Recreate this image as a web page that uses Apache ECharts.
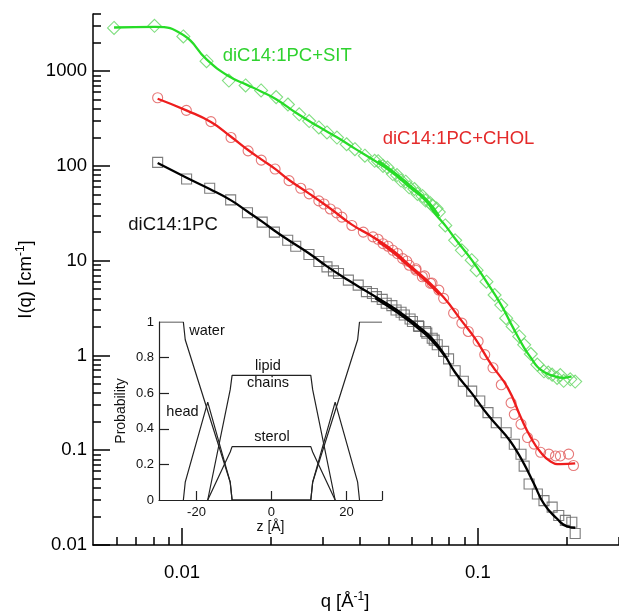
<!DOCTYPE html>
<html><head><meta charset="utf-8">
<script src="https://cdn.jsdelivr.net/npm/echarts@6/dist/echarts.min.js"></script>
<style>html,body{margin:0;padding:0;background:#fff}#c{width:619px;height:616px}</style>
</head><body><div id="c"></div>
<script>
const FONT = '"Liberation Sans", Arial, Helvetica, sans-serif';

// ---- diC14:1PC+SIT (green diamonds) ----
const sitQ = [0.00589,0.00807,0.0101,0.0121,0.0144,0.0164,0.0185,0.0208,0.0228,0.0249,0.0269,0.0290,0.0309,0.0334,0.0360,0.0384,0.0415,0.0448,0.0478,0.0516,0.0550,0.0586,0.0625,0.0666,0.0701,0.0738];
const sitI = [2850,3000,2320,1270,794,705,624,531,444,350,297,254,225,199,169,150,128,113,100,82,70,59.4,50.6,43,38.1,32.5];
const sitQ2 = [0.0460,0.0495,0.0533,0.0570,0.0610,0.0650,0.0690,0.0725,0.0776,0.0838,0.0883,0.0953,0.0990,0.1069,0.1139,0.1200,0.1246,0.1311,0.1380,0.1434,0.1510,0.1589,0.1673,0.1730,0.1783,0.1853,0.1900,0.1950,0.2053,0.2133];
const sitI2 = [112,96,80,68,57,48,40.5,35.5,23.5,16.4,12.85,10.1,7.93,6.0,4.34,3.40,2.47,2.02,1.585,1.295,1.035,0.80,0.68,0.66,0.627,0.58,0.62,0.54,0.56,0.53];
const sitFitQ = [0.00589,0.0081,0.0101,0.0121,0.0144,0.0165,0.0185,0.0208,0.0242,0.0290,0.0334,0.0384,0.0448,0.0516,0.0586,0.0666,0.0719,0.0780,0.0838,0.0953,0.1069,0.1200,0.1311,0.1434,0.1510,0.1589,0.1673,0.1765,0.1950,0.2074];
const sitFitI = [2880,2930,2400,1330,880,720,610,505,365,258,200,152,113,84,60,43,31,23,17,10.2,6.0,3.4,2.0,1.2,0.95,0.76,0.67,0.62,0.58,0.6];
const sitFit2Q = [0.046,0.052,0.059,0.067,0.074];
const sitFit2I = [113,86,62,44,29.5];

// ---- diC14:1PC+CHOL (red circles) ----
const cholQ = [0.00827,0.01034,0.01252,0.01464,0.01672,0.01853,0.02063,0.0230,0.0252,0.0269,0.0290,0.0302,0.0317,0.0333,0.0347,0.0375,0.0410,0.0442,0.0478,0.0516,0.0557,0.0586,0.0617,0.0649,0.0692,0.0738];
const cholI = [523,385,293,199,144,115,92.5,69.8,58.0,50.6,42.7,39.6,35.1,31.9,28.8,23.5,20.0,17.8,15.1,12.85,10.5,8.95,7.93,6.76,5.75,4.89];
const cholQ2 = [0.0460,0.0497,0.0535,0.0575,0.0618,0.0660,0.0700,0.0766,0.0828,0.0883,0.0928,0.1002,0.1055,0.1125,0.1200,0.1295,0.1328,0.1399,0.1472,0.1549,0.1630,0.1738,0.1830,0.1901,0.2027,0.2105];
const cholI2 = [16.8,14.2,11.9,9.9,8.2,6.9,5.8,4.0,2.79,2.19,1.79,1.41,1.02,0.74,0.49,0.316,0.239,0.188,0.136,0.116,0.095,0.091,0.087,0.087,0.091,0.069];
const cholFitQ = [0.00827,0.01034,0.01252,0.01464,0.01672,0.01853,0.02063,0.0230,0.0269,0.0317,0.0375,0.0442,0.0516,0.0586,0.0666,0.0766,0.0883,0.0977,0.1111,0.1262,0.1399,0.151,0.163,0.1761,0.1901,0.2133];
const cholFitI = [511,385,290,203,147,117,93,71,51,35.5,24,17.8,12.8,9.0,6.4,4.1,2.3,1.52,0.80,0.455,0.22,0.136,0.095,0.076,0.0713,0.0725];
const cholFit2Q = [0.046,0.052,0.058,0.066,0.074];
const cholFit2I = [15.8,12.0,8.9,6.3,4.4];

// ---- diC14:1PC (black squares) ----
const pcQ = [0.00827,0.01036,0.0124,0.0146,0.01664,0.01866,0.02052,0.02276,0.02423,0.02685,0.0290,0.0309,0.0325,0.0338,0.0365,0.0394,0.0420,0.0454,0.0490,0.0529,0.0564,0.0601,0.0632,0.0666,0.0701,0.0729,0.0766];
const pcI = [108.9,72.6,58.0,43.8,32.0,25.5,20.0,16.4,14.2,11.6,9.8,8.6,7.8,7.33,6.23,5.52,4.71,4.17,3.55,3.02,2.67,2.28,2.02,1.79,1.52,1.295,1.104];
const pcQ2 = [0.0440,0.0475,0.0512,0.0550,0.0590,0.0630,0.0672,0.0712,0.0796,0.0838,0.0893,0.0953,0.1015,0.1082,0.1154,0.1246,0.1328,0.1399,0.1434,0.1490,0.1589,0.1673,0.1783,0.1877,0.1976,0.2078,0.2133];
const pcI2 = [4.5,3.9,3.35,2.85,2.42,2.05,1.72,1.45,0.92,0.69,0.535,0.42,0.33,0.249,0.195,0.153,0.1156,0.0908,0.068,0.044,0.0345,0.0294,0.0251,0.0205,0.0182,0.0174,0.0132];
const pcFitQ = [0.00827,0.01036,0.0124,0.0146,0.01664,0.01866,0.0205,0.0228,0.0269,0.0309,0.0365,0.042,0.049,0.0564,0.0632,0.0701,0.0766,0.0838,0.0953,0.1082,0.1246,0.1328,0.1434,0.1549,0.1673,0.1853,0.2,0.2133];
const pcFitI = [107,75,57,43.5,33,25.8,20.8,16.6,11.9,8.7,6.2,4.75,3.55,2.65,2.0,1.5,1.05,0.66,0.40,0.235,0.142,0.108,0.0713,0.044,0.0271,0.0189,0.0157,0.0152];
const pcFit2Q = [0.045,0.050,0.056,0.063,0.070,0.078];
const pcFit2I = [4.0,3.25,2.55,1.92,1.43,0.95];

// ---- inset: probability profiles ----
const zWater = [-30,-23.5,-23,-11,-10.5,10.5,11,23,23.5,29.5];
const pWater = [1,1,0.9,0.1,0,0,0.1,0.9,1,1];
const zHead = [-23.5,-23,-17,-11,-10.5,10.5,11,17,23,23.5];
const pHead = [0,0.1,0.55,0.1,0,0,0.1,0.55,0.1,0];
const zChain = [-17,-11,-10.5,10.5,11,17];
const pChain = [0,0.62,0.7,0.7,0.62,0];
const zSterol = [-17,-11,-10.5,10.5,11,17];
const pSterol = [0,0.27,0.3,0.3,0.27,0];

// ---- ticks ----
const xMajorTicks = [0.01, 0.1];
const xTickLabels = ['0.01', '0.1'];
const xMinorTicks = [0.006,0.007,0.008,0.009,0.02,0.03,0.04,0.05,0.06,0.07,0.08,0.09,0.2,0.3];
const yMajorTicks = [0.01,0.1,1,10,100,1000];
const yTickLabels = ['0.01','0.1','1','10','100','1000'];
const minorMantissas = [2,3,4,5,6,7,8,9];
const yMinorTicks = yMajorTicks.flatMap(d => minorMantissas.map(m => +(m*d).toPrecision(3))).filter(v => v <= 4000);
const zTicks = [-20, 0, 20, 29.5];
const zTickLabels = [-20, 0, 20];
const pTicks = [0.2, 0.4, 0.6, 0.8];
const pTickLabels = [0, 0.2, 0.4, 0.6, 0.8, 1];

const zip = (a, b) => a.map((v, i) => [v, b[i]]);
const labelFor = (ticks, labels) => v => {
  const i = ticks.findIndex(t => Math.abs(Math.log10(t / v)) < 1e-4);
  return i >= 0 ? labels[i] : '';
};

const GREEN = '#27dc27', GREEN_M = '#6ad86a';
const RED = '#ee1d1d', RED_M = '#e26060';
const BLACK = '#000', BLACK_M = '#666';

function marker(name, q, I, symbol, size, col) {
  return { type: 'scatter', name, xAxisIndex: 0, yAxisIndex: 0, data: zip(q, I), symbol, symbolSize: size,
    itemStyle: { color: 'rgba(255,255,255,0)', borderColor: col, borderWidth: 1.1, opacity: 0.85 }, z: 2, silent: true };
}
function fit(q, I, col) {
  return { type: 'line', xAxisIndex: 0, yAxisIndex: 0, data: zip(q, I), symbol: 'none', showSymbol: false,
    smooth: 0.5, lineStyle: { color: col, width: 2.3 }, z: 3, silent: true };
}
function prof(z, p) {
  return { type: 'line', xAxisIndex: 2, yAxisIndex: 2, data: zip(z, p), symbol: 'none', showSymbol: false,
    lineStyle: { color: '#222', width: 1.2 }, z: 3, silent: true };
}

const tickStyle = { color: '#000', width: 1.5 };
const insetTick = { color: '#222', width: 1.2 };

const option = {
  animation: false,
  backgroundColor: '#fff',
  grid: [
    { left: 93, top: 14, width: 533, height: 534 },
    { left: 159, top: 322, width: 223, height: 178 }
  ],
  xAxis: [
    { type: 'log', gridIndex: 0, min: 0.005, max: 0.3, position: 'bottom',
      axisLine: { onZero: false, lineStyle: tickStyle },
      axisTick: { inside: true, length: 17, lineStyle: tickStyle, customValues: xMajorTicks },
      axisLabel: { customValues: xMajorTicks, formatter: labelFor(xMajorTicks, xTickLabels), margin: 18,
        color: '#000', fontSize: 18.5, fontFamily: FONT },
      splitLine: { show: false }, minorTick: { show: false },
      name: '{a|q [Å}{b|-1}{a|]}', nameLocation: 'middle', nameGap: 46,
      nameTextStyle: { padding: [0, 22, 0, 0], rich: {
        a: { fontSize: 18.5, fontFamily: FONT, color: '#000' },
        b: { fontSize: 12, fontFamily: FONT, color: '#000', padding: [0, 0, 9, 0] } } } },
    { type: 'log', gridIndex: 0, min: 0.005, max: 0.3, position: 'bottom',
      axisLine: { show: false, onZero: false },
      axisTick: { inside: true, length: 8, lineStyle: tickStyle, customValues: xMinorTicks },
      axisLabel: { show: false }, splitLine: { show: false } },
    { type: 'value', gridIndex: 1, min: -30, max: 29.5, position: 'bottom',
      axisLine: { onZero: false, lineStyle: insetTick },
      axisTick: { inside: true, length: 9, lineStyle: insetTick, customValues: zTicks },
      axisLabel: { customValues: zTickLabels, formatter: v => String(v), margin: 6, color: '#111', fontSize: 13, fontFamily: FONT },
      splitLine: { show: false },
      name: 'z [Å]', nameLocation: 'middle', nameGap: 20,
      nameTextStyle: { fontSize: 14, fontFamily: FONT, color: '#111' } }
  ],
  yAxis: [
    { type: 'log', gridIndex: 0, min: 0.01, max: 4000, position: 'left',
      axisLine: { onZero: false, lineStyle: tickStyle },
      axisTick: { inside: true, length: 17, lineStyle: tickStyle, customValues: yMajorTicks },
      axisLabel: { customValues: yMajorTicks, formatter: labelFor(yMajorTicks, yTickLabels), margin: 6,
        color: '#000', fontSize: 18.5, fontFamily: FONT },
      splitLine: { show: false }, minorTick: { show: false },
      name: '{a|I(q) [cm}{b|-1}{a|]}', nameLocation: 'middle', nameGap: 57,
      nameTextStyle: { rich: {
        a: { fontSize: 18.5, fontFamily: FONT, color: '#000' },
        b: { fontSize: 12, fontFamily: FONT, color: '#000', padding: [0, 0, 9, 0] } } } },
    { type: 'log', gridIndex: 0, min: 0.01, max: 4000, position: 'left',
      axisLine: { show: false, onZero: false },
      axisTick: { inside: true, length: 8, lineStyle: tickStyle, customValues: yMinorTicks },
      axisLabel: { show: false }, splitLine: { show: false } },
    { type: 'value', gridIndex: 1, min: 0, max: 1, position: 'left',
      axisLine: { onZero: false, lineStyle: insetTick },
      axisTick: { inside: true, length: 10, lineStyle: insetTick, customValues: pTicks },
      axisLabel: { customValues: pTickLabels, formatter: v => String(v), margin: 5, color: '#111', fontSize: 13, fontFamily: FONT },
      splitLine: { show: false },
      name: 'Probability', nameLocation: 'middle', nameGap: 31,
      nameTextStyle: { fontSize: 14, fontFamily: FONT, color: '#111' } }
  ],
  series: [
    marker('SIT', sitQ, sitI, 'diamond', 13, GREEN_M),
    marker('SIT2', sitQ2, sitI2, 'diamond', 13, GREEN_M),
    marker('CHOL', cholQ, cholI, 'circle', 10, RED_M),
    marker('CHOL2', cholQ2, cholI2, 'circle', 10, RED_M),
    marker('PC', pcQ, pcI, 'rect', 10, BLACK_M),
    marker('PC2', pcQ2, pcI2, 'rect', 10, BLACK_M),
    fit(sitFitQ, sitFitI, GREEN), fit(sitFit2Q, sitFit2I, GREEN),
    fit(cholFitQ, cholFitI, RED), fit(cholFit2Q, cholFit2I, RED),
    fit(pcFitQ, pcFitI, BLACK), fit(pcFit2Q, pcFit2I, BLACK),
    prof(zWater, pWater), prof(zHead, pHead), prof(zChain, pChain), prof(zSterol, pSterol)
  ],
  graphic: [
    { type: 'text', x: 222.7, y: 55.6, style: { text: 'diC14:1PC+SIT', fill: '#2fd22f', font: '18.5px ' + FONT, align: 'left', verticalAlign: 'middle' } },
    { type: 'text', x: 382.7, y: 139.3, style: { text: 'diC14:1PC+CHOL', fill: '#e42a2a', font: '18.5px ' + FONT, align: 'left', verticalAlign: 'middle' } },
    { type: 'text', x: 128.3, y: 225.3, style: { text: 'diC14:1PC', fill: '#111', font: '18.5px ' + FONT, align: 'left', verticalAlign: 'middle' } },
    { type: 'text', x: 189.3, y: 331, style: { text: 'water', fill: '#111', font: '14.5px ' + FONT, align: 'left', verticalAlign: 'middle' } },
    { type: 'text', x: 268, y: 366, style: { text: 'lipid', fill: '#111', font: '14.5px ' + FONT, align: 'center', verticalAlign: 'middle' } },
    { type: 'text', x: 268, y: 383, style: { text: 'chains', fill: '#111', font: '14.5px ' + FONT, align: 'center', verticalAlign: 'middle' } },
    { type: 'text', x: 182.5, y: 412, style: { text: 'head', fill: '#111', font: '14.5px ' + FONT, align: 'center', verticalAlign: 'middle' } },
    { type: 'text', x: 272, y: 437, style: { text: 'sterol', fill: '#111', font: '14.5px ' + FONT, align: 'center', verticalAlign: 'middle' } }
  ]
};

const chart = echarts.init(document.getElementById('c'), null, { renderer: 'canvas' });
chart.setOption(option);
</script>
</body></html>
